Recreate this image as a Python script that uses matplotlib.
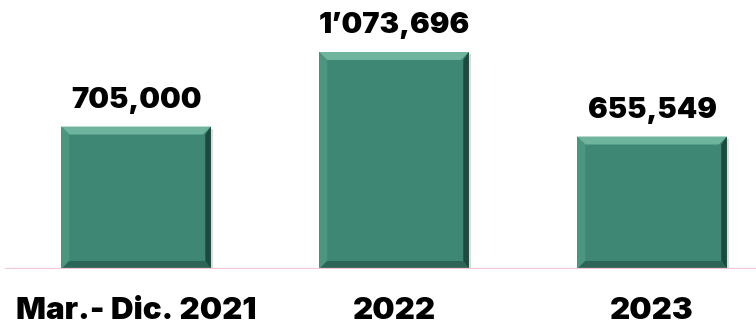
import matplotlib.pyplot as plt
from matplotlib.patches import Polygon, Rectangle

categories = ['Mar.- Dic. 2021', '2022', '2023']
values = [705000, 1073696, 655549]
value_labels = ['705,000', '1\u2019073,696', '655,549']

plt.rcParams['font.family'] = ['Inter', 'DejaVu Sans']

fig = plt.figure(figsize=(7.56, 3.24), dpi=100)
ax = fig.add_axes([5 / 756, 55 / 324, 751 / 756, 269 / 324])
ax.set_xlim(-0.508, 2.403)
ax.set_ylim(0, 1331000)
ax.axis('off')

face = '#3e8774'
top_c = '#6fb59e'
left_c = '#4c957f'
right_c = '#1d4a3e'
bottom_c = '#2c6555'
width = 0.58

# bevel size in data units, derived from pixel size
bev_px = 8
x_per_px = (2.403 + 0.508) / 751
y_per_px = 1331000 / 269
bx = bev_px * x_per_px
by = bev_px * y_per_px

for i, v in enumerate(values):
    x0, x1 = i - width / 2, i + width / 2
    # soft shadow
    ax.add_patch(Rectangle((x0 + 2 * x_per_px, 0), width, v - 2 * y_per_px,
                           facecolor='#bbbbbb', edgecolor='none', alpha=0.5, zorder=1))
    ax.add_patch(Rectangle((x0, 0), width, v, facecolor=face, edgecolor='none', zorder=2))
    ax.add_patch(Polygon([(x0, v), (x1, v), (x1 - bx, v - by), (x0 + bx, v - by)],
                         closed=True, facecolor=top_c, edgecolor='none', zorder=3))
    ax.add_patch(Polygon([(x0, 0), (x0, v), (x0 + bx, v - by), (x0 + bx, by)],
                         closed=True, facecolor=left_c, edgecolor='none', zorder=3))
    ax.add_patch(Polygon([(x1, 0), (x1, v), (x1 - bx * 0.7, v - by), (x1 - bx * 0.7, by)],
                         closed=True, facecolor=right_c, edgecolor='none', zorder=3))
    ax.add_patch(Polygon([(x0, 0), (x1, 0), (x1 - bx * 0.7, by), (x0 + bx, by)],
                         closed=True, facecolor=bottom_c, edgecolor='none', zorder=3))
    ax.text(i, v + 19 * y_per_px, value_labels[i], ha='center', va='baseline',
            fontsize=21, fontweight='black', color='black')
    ax.text(i, -50 * y_per_px, categories[i], ha='center', va='baseline',
            fontsize=22.5, fontweight='black', color='black', clip_on=False)

ax.axhline(0, color='#f3c6d6', linewidth=1.6, zorder=4)

fig.savefig('out.png', dpi=100)
